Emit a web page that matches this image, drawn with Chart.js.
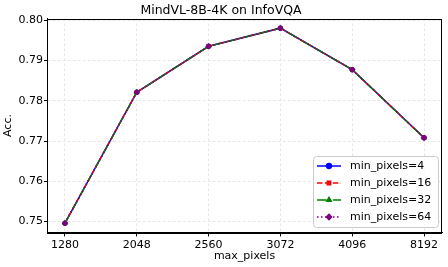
<!DOCTYPE html>
<html>
<head>
<meta charset="utf-8">
<script src="https://cdn.jsdelivr.net/npm/chart.js@4"></script>
<style>
  html, body { margin: 0; padding: 0; background: #fff; }
  #wrap { width: 448px; height: 267px; }
</style>
</head>
<body>
<div id="wrap"><canvas id="c" width="448" height="267"></canvas></div>
<script>
// ---------------------------------------------------------------------------
// Data
// ---------------------------------------------------------------------------
const maxPixels = ['1280', '2048', '2560', '3072', '4096', '8192'];
const yTicks = [0.75, 0.76, 0.77, 0.78, 0.79, 0.80];

const accMin4  = [0.7496, 0.7821, 0.7935, 0.7980, 0.7877, 0.7708];
const accMin16 = [0.7496, 0.7821, 0.7935, 0.7980, 0.7877, 0.7708];
const accMin32 = [0.7496, 0.7821, 0.7935, 0.7980, 0.7877, 0.7708];
const accMin64 = [0.7496, 0.7821, 0.7935, 0.7980, 0.7877, 0.7708];

const FONT = "'DejaVu Sans', sans-serif";

function series(label, values, color, dash, pointStyle, radius) {
    return {
        label,
        data: values.map((v, i) => ({ x: i, y: v })),
        borderColor: color,
        backgroundColor: color,
        borderWidth: 1.5,
        borderDash: dash,
        pointStyle,
        pointRadius: radius,
        pointBorderWidth: 1,
        fill: false,
        tension: 0,
    };
}

// draw the order matplotlib does: later series on top
const datasets = [
    series('min_pixels=4', accMin4, '#0000ff', [], 'circle', 2.4),
    series('min_pixels=16', accMin16, '#ff0000', [5.5, 2.4], 'rect', 2.4),
    series('min_pixels=32', accMin32, '#008000', [9.6, 2.4, 1.5, 2.4], 'triangle', 2.6),
    series('min_pixels=64', accMin64, '#800080', [1.5, 2.5], 'rectRot', 2.6),
].map((d, i) => ({ ...d, order: 4 - i }));

// ---------------------------------------------------------------------------
// Plugins: frame + in-plot legend
// ---------------------------------------------------------------------------
const framePlugin = {
    id: 'frame',
    afterDatasetsDraw(chart) {
        const { ctx, chartArea: a } = chart;
        ctx.save();
        ctx.strokeStyle = '#000';
        ctx.lineWidth = 1;
        ctx.strokeRect(Math.round(a.left) + 0.5, Math.round(a.top) + 0.5,
            Math.round(a.right - a.left) - 1, Math.round(a.bottom - a.top));
        ctx.restore();
    }
};

const legendPlugin = {
    id: 'boxLegend',
    afterDraw(chart) {
        const { ctx } = chart;
        const x0 = 313, y0 = 156, w = 125, h = 71, rowH = 17;
        ctx.save();
        ctx.fillStyle = 'rgba(255,255,255,0.8)';
        ctx.strokeStyle = '#cccccc';
        ctx.lineWidth = 1;
        ctx.beginPath();
        ctx.roundRect(x0 + 0.5, y0 + 0.5, w, h, 3);
        ctx.fill();
        ctx.stroke();
        chart.data.datasets.forEach((d, i) => {
            const cy = y0 + 10 + i * rowH;
            ctx.strokeStyle = d.borderColor;
            ctx.lineWidth = d.borderWidth;
            ctx.setLineDash(d.borderDash);
            ctx.beginPath();
            ctx.moveTo(317, cy);
            ctx.lineTo(341, cy);
            ctx.stroke();
            ctx.setLineDash([]);
            Chart.helpers.drawPoint(ctx, {
                pointStyle: d.pointStyle, radius: d.pointRadius, borderWidth: 1, rotation: 0,
            }, 329, cy);
            ctx.fillStyle = d.borderColor;
            ctx.fill();
            ctx.fillStyle = '#000';
            ctx.font = `11px ${FONT}`;
            ctx.textBaseline = 'middle';
            ctx.fillText(d.label, 350, cy + 0.5);
        });
        ctx.restore();
    }
};

// ---------------------------------------------------------------------------
// Chart
// ---------------------------------------------------------------------------
new Chart(document.getElementById('c'), {
    type: 'line',
    data: { datasets },
    plugins: [framePlugin, legendPlugin],
    options: {
        responsive: false,
        animation: false,
        devicePixelRatio: 1,
        layout: { padding: { left: 0, right: 6, top: 0, bottom: 0 } },
        plugins: {
            legend: { display: false },
            tooltip: { enabled: false },
            title: {
                display: true,
                text: 'MindVL-8B-4K on InfoVQA',
                color: '#000',
                font: { family: FONT, size: 12.5, weight: 'normal', lineHeight: 1.2 },
                padding: { top: 3, bottom: 0.5 },
            },
        },
        scales: {
            x: {
                type: 'linear',
                min: -0.25,
                max: 5.25,
                afterBuildTicks: s => { s.ticks = maxPixels.map((_, i) => ({ value: i })); },
                afterFit: s => { s.height = 34.5; },
                ticks: {
                    color: '#000',
                    font: { family: FONT, size: 11 },
                    padding: 2,
                    maxRotation: 0,
                    callback: v => maxPixels[v],
                },
                grid: { color: '#dddddd', lineWidth: 0.8, tickColor: '#000', tickLength: 4, tickWidth: 1 },
                border: { display: true, color: '#000', dash: [2.5, 2.5] },
                title: {
                    display: true,
                    text: 'max_pixels',
                    color: '#000',
                    font: { family: FONT, size: 11 },
                    padding: { top: 0, bottom: 4 },
                },
            },
            y: {
                min: 0.7473,
                max: 0.8004,
                afterBuildTicks: s => { s.ticks = yTicks.map(v => ({ value: v })); },
                afterFit: s => { s.width = 47; },
                ticks: {
                    color: '#000',
                    font: { family: FONT, size: 11 },
                    padding: 1,
                    callback: v => v.toFixed(2),
                },
                grid: { color: '#dddddd', lineWidth: 0.8, tickColor: '#000', tickLength: 3, tickWidth: 1 },
                border: { display: true, color: '#000', dash: [2.5, 2.5] },
                title: {
                    display: true,
                    text: 'Acc.',
                    color: '#000',
                    font: { family: FONT, size: 11 },
                    padding: { top: 2, bottom: 0 },
                },
            },
        },
    },
});
</script>
</body>
</html>
